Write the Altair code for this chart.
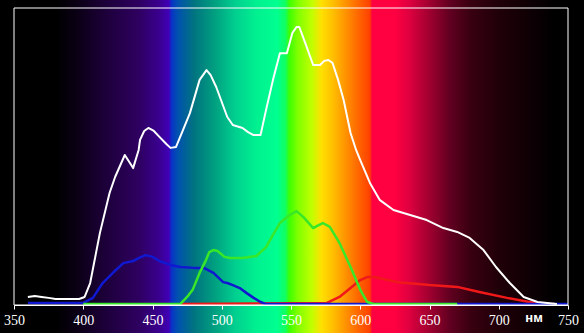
import altair as alt
import pandas as pd

# ---- data (values as % of plot height) ----
white_nm = [360, 365, 370, 375, 380, 390, 397, 401, 405, 412, 419, 423, 430, 436, 440, 441, 444, 447, 451, 455,
            460, 463, 467, 472, 477, 484, 489, 492, 496, 504, 508, 515, 519, 523, 528, 532, 537, 542, 547, 551,
            554, 556, 560, 566, 571, 574, 577, 580, 584, 588, 593, 597, 600, 607, 614, 624, 636, 648, 660, 670,
            679, 689, 698, 708, 718, 728, 742]
white_val = [2.7, 3.0, 2.7, 2.4, 2.0, 2.0, 2.0, 2.7, 7.4, 24.2, 37.7, 43.1, 50.5, 46.1, 52.2, 55.6, 58.6, 59.6, 58.6, 56.6,
             54.2, 52.9, 53.2, 58.9, 64.6, 75.8, 79.1, 77.4, 73.4, 63.3, 60.6, 59.6, 58.2, 57.2, 57.2, 65.7, 75.8, 84.8, 84.8, 91.6,
             93.6, 93.6, 88.6, 80.8, 80.8, 82.2, 82.5, 81.5, 75.8, 69.0, 57.9, 52.2, 48.8, 41.1, 35.4, 32.0, 30.3, 28.6, 25.9, 24.6,
             22.6, 18.5, 12.8, 7.4, 2.7, 1.0, 0.3]

blue_nm = [360, 400, 407, 414, 422, 429, 436, 440, 445, 450, 455, 463, 470, 480, 487, 494, 501, 504, 508, 513,
           518, 523, 528, 532, 750]
blue_val = [0.7, 0.7, 2.4, 7.4, 11.1, 14.1, 14.8, 15.8, 16.8, 16.2, 14.8, 13.5, 12.8, 12.5, 12.5, 10.8, 7.7, 7.4, 6.7, 5.7,
            4.0, 2.4, 1.0, 0.3, 0.3]

green_nm = [400, 470, 475, 479, 484, 488, 491, 494, 497, 502, 506, 515, 525, 532, 537, 542, 549, 554, 559, 566,
            570, 573, 578, 585, 593, 600, 605, 610, 670]
green_val = [0.3, 0.3, 2.7, 5.1, 10.8, 14.5, 17.8, 18.5, 18.2, 16.2, 15.8, 15.8, 16.5, 19.5, 23.6, 27.6, 30.3, 31.6, 29.6, 25.9,
             26.9, 27.6, 26.3, 20.9, 12.8, 5.1, 1.0, 0.3, 0.3]

red_nm = [470, 576, 585, 593, 600, 605, 610, 627, 650, 670, 686, 706, 722, 735, 740]
red_val = [0.3, 0.7, 2.7, 5.7, 8.4, 9.4, 9.4, 7.7, 6.7, 6.1, 4.4, 2.4, 1.0, 0.3, 0.3]

tick_values = [350, 400, 450, 500, 550, 600, 650, 700, 750]

# spectrum background colour stops (nm, colour)
spectrum_nm = [350, 380, 395, 415, 440, 455, 462, 463.5, 468, 480, 495, 510, 525, 540, 546, 549, 555, 565,
               572, 580, 590, 600, 607, 608.5, 625, 635, 650, 665, 680, 700, 720, 740, 750]
spectrum_col = ["#000000", "#000000", "#0a0014", "#1c0038", "#2e0060", "#3a0090", "#4000b8", "#0a30c8", "#0050b0",
                "#007480", "#00a080", "#00d090", "#00f090", "#00ff90", "#10ff60", "#40ff00", "#80ff00", "#c0ff00",
                "#ffe000", "#ffc000", "#ff9000", "#ff6000", "#ff4000", "#ff0040", "#ff0040", "#e00040", "#a00030",
                "#600020", "#380010", "#200008", "#100004", "#000000", "#000000"]

X0, X1 = 350, 750
xscale = alt.Scale(domain=[X0, X1], nice=False, zero=False)
yscale = alt.Scale(domain=[0, 100], nice=False, zero=True)

stops = [alt.GradientStop(offset=(n - X0) / (X1 - X0), color=c) for n, c in zip(spectrum_nm, spectrum_col)]
grad = alt.LinearGradient(gradient="linear", stops=stops, x1=0, x2=1, y1=0, y2=0)

bg = alt.Chart(pd.DataFrame({"a": [X0], "b": [X1]})).mark_rect(fill=grad).encode(
    x=alt.X("a:Q", scale=xscale, axis=alt.Axis(values=tick_values, format="d", title=None, zindex=1,
                                                domainColor="white", tickColor="white", tickSize=4,
                                                labelColor="white", labelFontSize=14, labelFont="Liberation Sans Narrow",
                                                labelFlush=False, labelOverlap=False, labelPadding=4, grid=False)),
    x2="b:Q",
    y=alt.value(-8),
    y2=alt.value(325),
)

frame = alt.Chart(pd.DataFrame({"a": [X0], "b": [X1], "lo": [0], "hi": [100]})).mark_rect(
    filled=False, stroke="white", strokeWidth=1).encode(
    x=alt.X("a:Q", scale=xscale), x2="b:Q",
    y=alt.Y("lo:Q", scale=yscale, axis=None), y2="hi:Q")


def curve(nm, val, color, width):
    df = pd.DataFrame({"nm": nm, "v": val})
    return alt.Chart(df).mark_line(color=color, strokeWidth=width, strokeJoin="round").encode(
        x=alt.X("nm:Q", scale=xscale),
        y=alt.Y("v:Q", scale=yscale, axis=None),
    )


red = curve(red_nm, red_val, "#f01818", 2.5)
blue = curve(blue_nm, blue_val, "#1018d0", 2.5)
green = curve(green_nm, green_val, "#38e828", 2.5)
white = curve(white_nm, white_val, "#ffffff", 2)

unit = alt.Chart(pd.DataFrame({"nm": [725.5], "t": ["нм"]})).mark_text(
    color="white", fontSize=13, font="Liberation Sans", fontWeight="bold", baseline="middle", align="center").encode(
    x=alt.X("nm:Q", scale=xscale), y=alt.value(310), text="t:N")

chart = alt.layer(bg, red, blue, green, white, frame, unit).properties(
    width=554, height=297,
    padding={"left": 14, "top": 8, "right": 16, "bottom": 28},
    autosize=alt.AutoSizeParams(type="none"),
    background="black",
).configure_view(stroke=None, fill="black")

chart.save("out.html", embed_options={"renderer": "svg", "actions": False})
